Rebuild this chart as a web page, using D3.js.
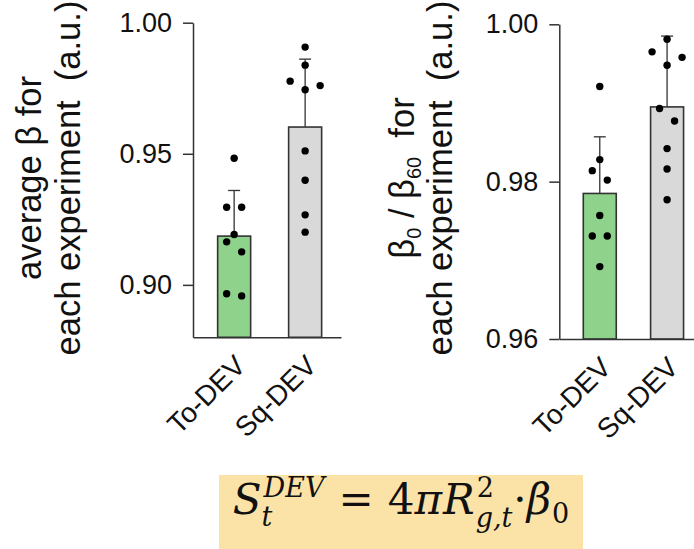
<html>
<head>
<meta charset="utf-8">
<style>
  body { margin: 0; background: #fff; }
  .tick text { font-family: "Liberation Sans", Arial, sans-serif; font-size: 27px; fill: #111; }
  .axis path, .axis line { stroke: #333; stroke-width: 1.5px; }
  .title, .xlab { font-family: "Liberation Sans", Arial, sans-serif; fill: #111; white-space: pre; }
  .formula text { font-family: "DejaVu Serif", serif; fill: #111; }
</style>
</head>
<body>
<svg width="694" height="549"></svg>
<script src="https://cdn.jsdelivr.net/npm/d3@7"></script>
<script>
  // data
  var categories = ["To-DEV", "Sq-DEV"];

  var avgBetaTo = [0.9483, 0.9296, 0.9296, 0.9192, 0.9164, 0.9126, 0.8958, 0.8966];
  var avgBetaSq = [0.9907, 0.9838, 0.9777, 0.9760, 0.9744, 0.9511, 0.9399, 0.9267, 0.9201];
  var avgBetaMean = [0.9186, 0.9602];
  var avgBetaSd = [0.0174, 0.0259];
  var avgBetaTicks = [0.90, 0.95, 1.00];

  var ratioTo = [0.9921, 0.9828, 0.9814, 0.9802, 0.9757, 0.9731, 0.9731, 0.9692];
  var ratioSq = [0.9981, 0.9965, 0.9958, 0.9948, 0.9893, 0.9877, 0.9842, 0.9816, 0.9777];
  var ratioMean = [0.9785, 0.9895];
  var ratioSd = [0.0072, 0.0090];
  var ratioTicks = [0.96, 0.98, 1.00];

  var barColors = ["#8fd28c", "#d9d9d9"];

  var svg = d3.select("svg");

  var panels = [
    {
      points: [avgBetaTo, avgBetaSq], mean: avgBetaMean, sd: avgBetaSd, ticks: avgBetaTicks,
      y: d3.scaleLinear().domain([0.88, 1.00]).range([337.3, 22.7]),
      x: d3.scaleBand().domain(categories).range([193, 341]).paddingInner(0.535).paddingOuter(0.31).align(0.56),
      title: [["average \u03b2 for"], ["each experiment  (a.u.)"]],
      titleX: [41, 80]
    },
    {
      points: [ratioTo, ratioSq], mean: ratioMean, sd: ratioSd, ticks: ratioTicks,
      y: d3.scaleLinear().domain([0.96, 1.00]).range([339, 24.3]),
      x: d3.scaleBand().domain(categories).range([559.3, 704]).paddingInner(0.51).paddingOuter(0.33).align(0.54),
      title: [["\u03b2", "_0", " / \u03b2", "_60", "  for"], ["each experiment  (a.u.)"]],
      titleX: [414, 452]
    }
  ];

  // simple Prism-like scatter: rows of nearby points spread sideways
  function swarm(vals, y, cx) {
    var gap = 15;
    var pts = vals.map(function(v) { return {v: v, py: y(v)}; })
      .sort(function(a, b) { return b.py - a.py; });
    var rows = [], row = null;
    pts.forEach(function(p) {
      if (row && row[0].py - p.py < 15) row.push(p);
      else { row = [p]; rows.push(row); }
    });
    rows.forEach(function(r) {
      var n = r.length;
      r.forEach(function(p, i) {
        var off;
        if (n % 2) off = i === 0 ? 0 : (i % 2 ? 1 : -1) * Math.ceil(i / 2) * gap;
        else off = (i % 2 ? -1 : 1) * (Math.floor(i / 2) + 0.5) * gap;
        p.px = cx + off;
      });
    });
    return pts;
  }

  panels.forEach(function(p) {
    var g = svg.append("g");
    var y0 = p.y.range()[0];
    var bw = p.x.bandwidth();

    // bars
    g.selectAll(".bar").data(categories).enter().append("rect")
      .attr("x", function(d) { return p.x(d); })
      .attr("y", function(d, i) { return p.y(p.mean[i]); })
      .attr("width", bw)
      .attr("height", function(d, i) { return y0 - p.y(p.mean[i]); })
      .attr("fill", function(d, i) { return barColors[i]; })
      .attr("stroke", "#333")
      .attr("stroke-width", 1.6);

    // error bars (upper only) + points
    categories.forEach(function(c, i) {
      var cx = p.x(c) + bw / 2;
      var top = p.y(p.mean[i] + p.sd[i]);
      g.append("line").attr("x1", cx).attr("x2", cx)
        .attr("y1", p.y(p.mean[i])).attr("y2", top)
        .attr("stroke", "#333").attr("stroke-width", 1.3);
      g.append("line").attr("x1", cx - 6).attr("x2", cx + 6)
        .attr("y1", top).attr("y2", top)
        .attr("stroke", "#333").attr("stroke-width", 1.3);

      var pts = swarm(p.points[i], p.y, cx);
      g.selectAll(null).data(pts).enter().append("circle")
        .attr("cx", function(d) { return d.px; })
        .attr("cy", function(d) { return d.py; })
        .attr("r", 3.7)
        .attr("fill", "#000");
    });

    // axes
    g.append("g").attr("class", "axis")
      .attr("transform", "translate(" + p.x.range()[0] + ",0)")
      .call(d3.axisLeft(p.y).tickValues(p.ticks).tickFormat(d3.format(".2f"))
        .tickSize(10).tickSizeOuter(0).tickPadding(11));

    g.append("g").attr("class", "axis")
      .attr("transform", "translate(0," + y0 + ")")
      .call(d3.axisBottom(p.x).tickSize(0).tickSizeOuter(0).tickFormat(""));

    g.selectAll(".xlab").data(categories).enter().append("text")
      .attr("class", "xlab")
      .attr("font-size", 28)
      .attr("text-anchor", "end")
      .attr("transform", function(d) {
        return "translate(" + (p.x(d) + bw / 2 + 13) + "," + (y0 + 30) + ") rotate(-45)";
      })
      .text(function(d) { return d; });

    // y title, two lines
    p.title.forEach(function(parts, li) {
      var t = g.append("text").attr("class", "title")
        .attr("font-size", 34.5)
        .attr("text-anchor", "middle")
        .attr("transform", "translate(" + p.titleX[li] + ",178) rotate(-90)");
      parts.forEach(function(s) {
        if (s[0] === "_") {
          t.append("tspan").attr("font-size", 20).attr("dy", 7).text(s.slice(1));
        } else {
          var ts = t.append("tspan").text(s);
          if (t.selectAll("tspan").size() > 1) ts.attr("dy", -7);
        }
      });
    });
  });

  // formula box
  var box = {x: 219, y: 475, w: 364, h: 74};
  svg.append("rect").attr("x", box.x).attr("y", box.y)
    .attr("width", box.w).attr("height", box.h).attr("fill", "#fbe3a8");

  var fg = svg.append("g").attr("class", "formula");
  var base = 514;
  var cx = 0;
  function put(str, x, y, size, italic) {
    var t = fg.append("text").attr("x", x).attr("y", y)
      .attr("font-size", size)
      .attr("font-style", italic ? "italic" : "normal")
      .text(str);
    return t.node().getComputedTextLength();
  }
  var big = 42, small = 27;
  cx += put("S", cx, base, big, true);
  var w1 = put("DEV", cx + 2, base - 17, small, true);
  var w2 = put("t", cx, base + 12, small, true);
  cx += Math.max(w1, w2) + 2 + 14;
  cx += put("=", cx, base, big, false) + 14;
  cx += put("4", cx, base, big, false);
  cx += put("\u03c0", cx, base, big, true) + 1;
  cx += put("R", cx, base, big, true);
  w1 = put("2", cx + 2, base - 17, small, false);
  w2 = put("g,t", cx + 1, base + 13, small, true);
  cx += Math.max(w1, w2) + 2;
  cx += put("\u00b7", cx, base, big, false);
  cx += put("\u03b2", cx, base, big, true);
  cx += put("0", cx + 1, base + 9, small, false) + 1;
  fg.attr("transform", "translate(" + (box.x + (box.w - cx) / 2) + ",0)");
</script>
</body>
</html>
